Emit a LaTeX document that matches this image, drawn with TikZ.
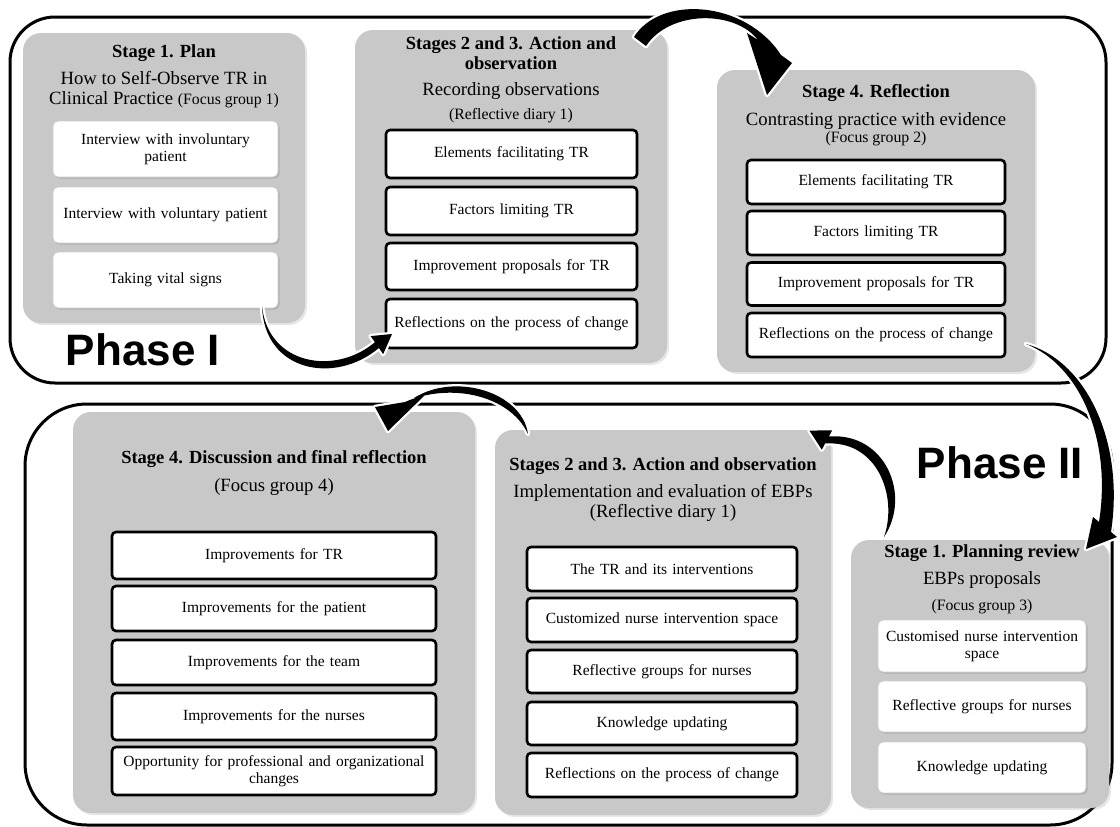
\documentclass[tikz,border=0pt]{standalone}
\usepackage{fontspec}
\setmainfont{Liberation Serif}
\newfontfamily\phasefont{Liberation Sans}
\usetikzlibrary{positioning, shadows}

\definecolor{stagegray}{RGB}{200,200,200}
\newcommand{\focussize}{\fontsize{15.8}{17}\selectfont}

\tikzset{
  phaseframe/.style={line width=3pt},
  stagebox/.style={fill=stagegray, rounded corners=18pt, inner sep=0pt,
    drop shadow={opacity=0.2, shadow xshift=2pt, shadow yshift=-2pt}},
  itembox/.style={draw=black, line width=2.6pt, fill=white, rounded corners=4pt,
    align=center, inner xsep=4pt, font=\fontsize{15.5}{17}\selectfont},
  softbox/.style={draw=black!20, line width=0.8pt, fill=white, rounded corners=5pt,
    align=center, inner xsep=4pt, font=\fontsize{15.5}{17}\selectfont,
    drop shadow={opacity=0.35, shadow xshift=1.5pt, shadow yshift=-1.5pt}},
  stagetitle/.style={font=\fontsize{18.5}{20}\selectfont\bfseries, align=center},
  stagesub/.style={font=\fontsize{18.7}{20}\selectfont, align=center},
  phaselabel/.style={font=\phasefont\fontsize{44}{48}\selectfont\bfseries},
  curvedarrow/.style={fill=black, preaction={draw=white, line width=4.5pt, line join=round}},
}

\begin{document}
\begin{tikzpicture}[x=1pt, y=-1pt]
    \useasboundingbox (0,0) rectangle (1120,827);

    % the two phase frames
    \draw[phaseframe, rounded corners=45pt] (10,17) rectangle (1106,383);
    \draw[phaseframe, rounded corners=62pt] (25,404) rectangle (1112,825);

    % Phase I: stage 1
    \node[stagebox, minimum width=282pt, minimum height=290pt] (s1) at (164,178) {};
    \node[stagetitle] (s1t) at (164,53) {Stage 1. Plan};
    \node[stagesub] (s1s) at (164,90) {How to Self-Observe TR in\\Clinical Practice {\focussize(Focus group 1)}};
    \node[softbox, text width=217pt, minimum height=56pt] (s1a) at (165.5,149) {Interview with involuntary\\patient};
    \node[softbox, text width=217pt, minimum height=56pt] (s1b) at (165.5,215) {Interview with voluntary patient};
    \node[softbox, text width=217pt, minimum height=56pt] (s1c) at (165.5,280) {Taking vital signs};

    % Phase I: stages 2 and 3
    \node[stagebox, minimum width=312pt, minimum height=333pt] (s23) at (511,196.5) {};
    \node[stagetitle] (s23t) at (511,53) {Stages 2 and 3. Action and\\observation};
    \node[stagesub] (s23s) at (511,91) {Recording observations};
    \node[stagesub, font=\focussize] (s23f) at (511,116) {(Reflective diary 1)};
    \node[itembox, text width=243pt, minimum height=48pt] (s23a) at (511.5,154) {Elements facilitating TR};
    \node[itembox, text width=243pt, minimum height=48pt] (s23b) at (511.5,211) {Factors limiting TR};
    \node[itembox, text width=243pt, minimum height=47pt] (s23c) at (511.5,266.5) {Improvement proposals for TR};
    \node[itembox, text width=243pt, minimum height=49pt] (s23d) at (511.5,323.5) {Reflections on the process of change};

    % Phase I: stage 4
    \node[stagebox, minimum width=318pt, minimum height=302pt] (s4) at (876,221) {};
    \node[stagetitle] (s4t) at (876,93) {Stage 4. Reflection};
    \node[stagesub, font=\fontsize{18.7}{17}\selectfont] (s4s) at (876,129.5) {Contrasting practice with evidence\\{\focussize(Focus group 2)}};
    \node[itembox, text width=250pt, minimum height=44pt] (s4a) at (876,182) {Elements facilitating TR};
    \node[itembox, text width=250pt, minimum height=44pt] (s4b) at (876,233) {Factors limiting TR};
    \node[itembox, text width=250pt, minimum height=43pt] (s4c) at (876,284) {Improvement proposals for TR};
    \node[itembox, text width=250pt, minimum height=44pt] (s4d) at (876,335) {Reflections on the process of change};

    \node[phaselabel] (p1) at (143,350) {Phase I};

    % Phase II: stage 4
    \node[stagebox, minimum width=402pt, minimum height=401pt] (t4) at (274,612.5) {};
    \node[stagetitle] (t4t) at (274,459) {Stage 4. Discussion and final reflection};
    \node[stagesub] (t4s) at (274,487) {(Focus group 4)};
    \node[itembox, text width=316pt, minimum height=47pt] (t4a) at (274,555.5) {Improvements for TR};
    \node[itembox, text width=316pt, minimum height=45pt] (t4b) at (274,608.5) {Improvements for the patient};
    \node[itembox, text width=316pt, minimum height=45pt] (t4c) at (274,662.5) {Improvements for the team};
    \node[itembox, text width=316pt, minimum height=47pt] (t4d) at (274,716.5) {Improvements for the nurses};
    \node[itembox, text width=316pt, minimum height=48pt] (t4e) at (274,771) {Opportunity for professional and organizational\\changes};

    % Phase II: stages 2 and 3
    \node[stagebox, minimum width=336pt, minimum height=385pt] (t23) at (663,622.5) {};
    \node[stagetitle] (t23t) at (663,466) {Stages 2 and 3. Action and observation};
    \node[stagesub] (t23s) at (663,503) {Implementation and evaluation of EBPs\\(Reflective diary 1)};
    \node[itembox, text width=262pt, minimum height=44pt] (t23a) at (662,569) {The TR and its interventions};
    \node[itembox, text width=262pt, minimum height=44pt] (t23b) at (662,620) {Customized nurse intervention space};
    \node[itembox, text width=262pt, minimum height=43pt] (t23c) at (662,671.5) {Reflective groups for nurses};
    \node[itembox, text width=262pt, minimum height=43pt] (t23d) at (662,723.5) {Knowledge updating};
    \node[itembox, text width=262pt, minimum height=44pt] (t23e) at (662,775) {Reflections on the process of change};

    % Phase II: stage 1
    \node[stagebox, minimum width=258pt, minimum height=268pt] (t1) at (980,674) {};
    \node[stagetitle] (t1t) at (982,553) {Stage 1. Planning review};
    \node[stagesub] (t1s) at (982,580) {EBPs proposals};
    \node[stagesub, font=\focussize] (t1f) at (982,607) {(Focus group 3)};
    \node[softbox, text width=200pt, minimum height=52pt] (t1a) at (982,646) {Customised nurse intervention\\space};
    \node[softbox, text width=200pt, minimum height=51pt] (t1b) at (982,706.5) {Reflective groups for nurses};
    \node[softbox, text width=200pt, minimum height=51pt] (t1c) at (982,767.5) {Knowledge updating};

    \node[phaselabel] (p2) at (1000,463) {Phase II};

    % curved arrows between the stages
    \path[curvedarrow] (262,306) .. controls (264,372) and (335,385) .. (378.9,348)
        -- (383.2,354.1) -- (392,334) -- (370.6,336.1) -- (374.9,342.2)
        .. controls (335,376) and (268,365) .. cycle;
    \path[curvedarrow] (634,37) .. controls (660,-5) and (745,0) .. (781,55)
        -- (792,63) -- (767,95) -- (747,33) -- (758,40)
        .. controls (735,10) and (670,10) .. (646,46) -- cycle;
    \path[curvedarrow] (1026,344) .. controls (1085,360) and (1125,440) .. (1111,532)
        -- (1117,537) -- (1086,549) -- (1093,517) -- (1099,522)
        .. controls (1112,440) and (1080,365) .. cycle;
    \path[curvedarrow] (884,537) .. controls (912,495) and (885,432) .. (828.9,436.5)
        -- (832.2,430.3) -- (809.4,430.6) -- (821.8,449.7) -- (825.1,443.5)
        .. controls (878,440) and (898,497) .. cycle;
    \path[curvedarrow] (528,434) .. controls (522,392) and (455,372) .. (414,398)
        -- (424,396) -- (388,431) -- (375,407) -- (405,402)
        .. controls (450,382) and (510,395) .. cycle;
\end{tikzpicture}
\end{document}
